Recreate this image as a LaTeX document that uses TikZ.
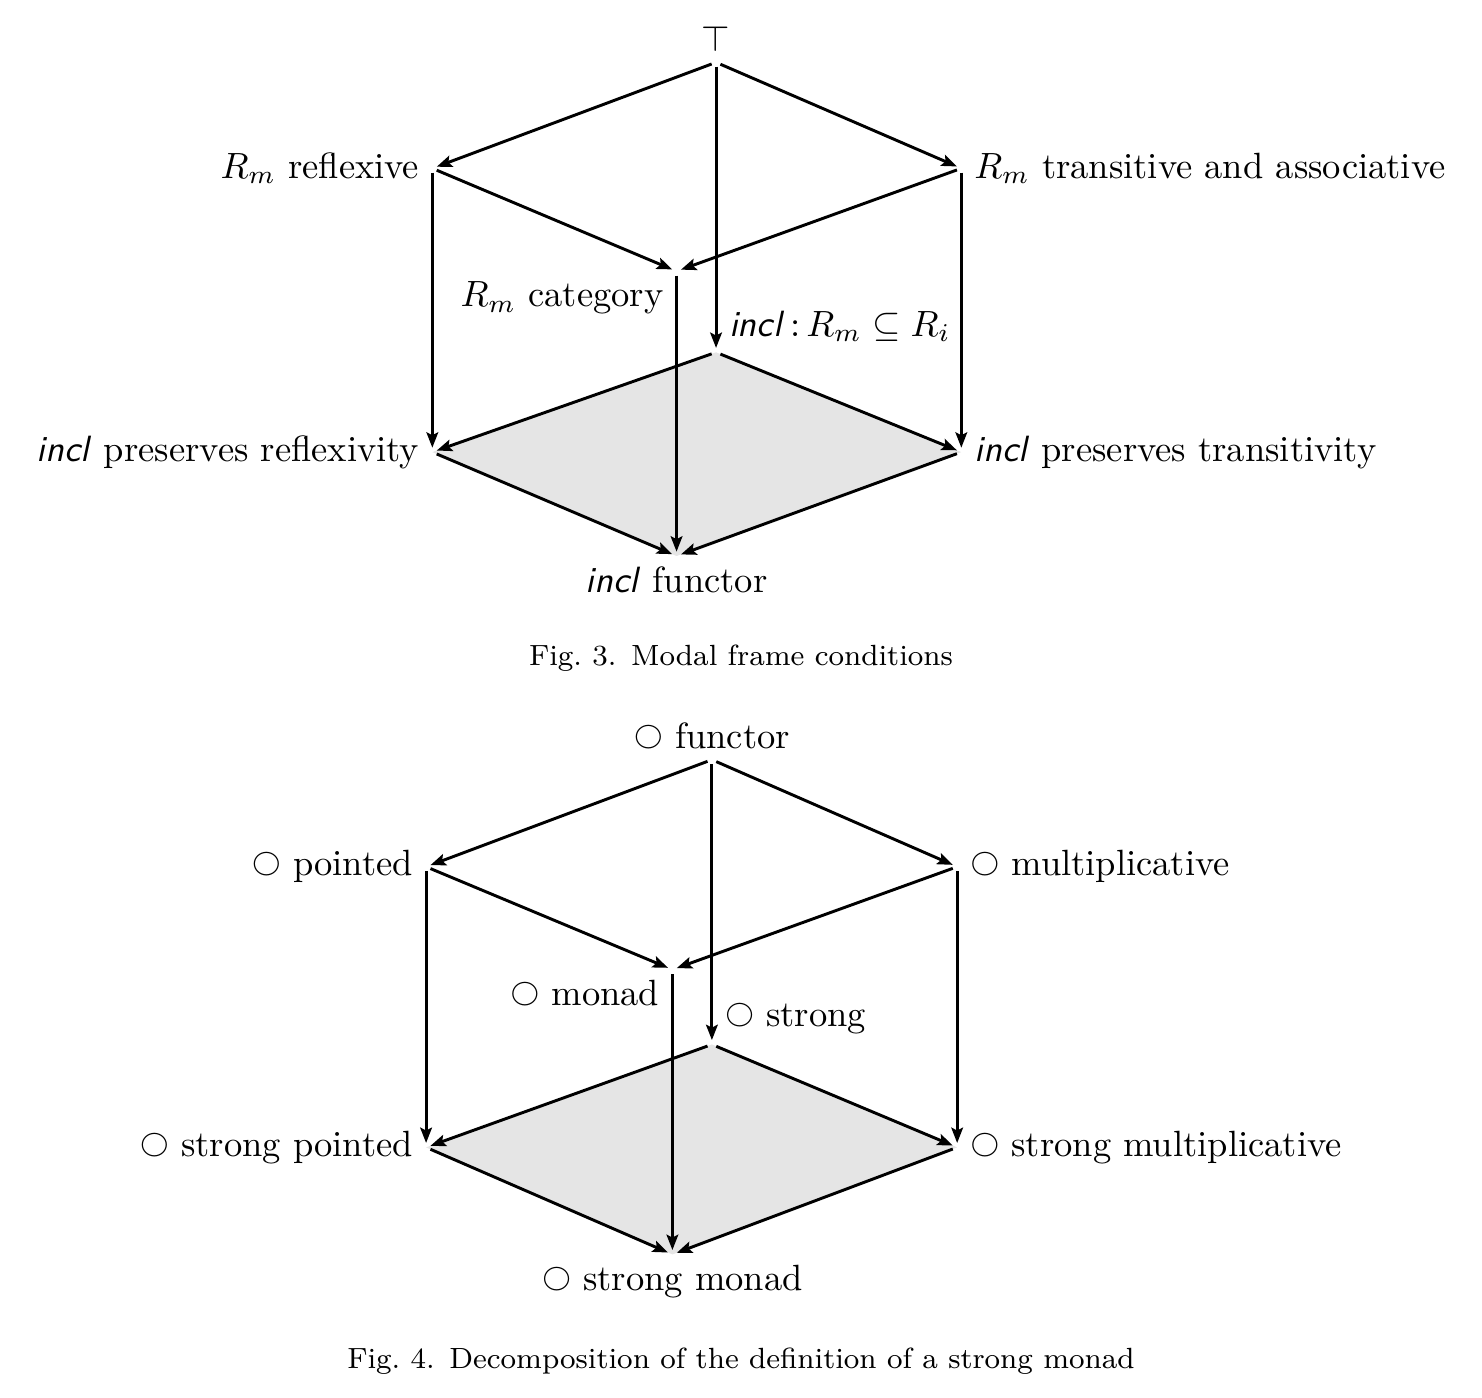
\documentclass[tikz,border=0pt]{standalone}
\usepackage{amsmath}
\usepackage{amssymb}
\usetikzlibrary{arrows.meta}

\newcommand{\incl}{\textsf{\textit{incl}}}
\newcommand{\modcirc}{\raisebox{\depth}{$\scriptstyle\bigcirc$}}

\begin{document}
\begin{tikzpicture}[
        vtx/.style={inner sep=1pt},
        every label/.style={inner xsep=2.2pt, inner ysep=1.5pt},
        arr/.style={thick, -{Stealth[length=4.2pt, width=3.2pt, inset=0.8pt]}},
        face/.style={fill=black!10},
        capt/.style={font=\footnotesize}
    ]

        \useasboundingbox (-6.89,-12.85) rectangle (7.37,0.60);

        % Fig. 3
        \node[vtx, label=above:{$\top$}] (top3) at (0,0) {};
        \node[vtx, label=left:{$R_m$ reflexive}] (refl3) at (-2.73,-1.02) {};
        \node[vtx, label=right:{$R_m$ transitive and associative}] (trans3) at (2.36,-1.02) {};
        \node[vtx, label=below left:{$R_m$ category}] (cat3) at (-0.38,-2.01) {};
        \node[vtx, label=above right:{$\text{\incl}\,{:}\,R_m \subseteq R_i$}] (sub3) at (0,-2.79) {};
        \node[vtx, label=left:{\incl{} preserves reflexivity}] (prefl3) at (-2.73,-3.75) {};
        \node[vtx, label=right:{\incl{} preserves transitivity}] (ptrans3) at (2.36,-3.75) {};
        \node[vtx, label=below:{\incl{} functor}] (fun3) at (-0.38,-4.75) {};

        \fill[face]
            (sub3.center) -- (prefl3.center) -- (fun3.center) -- (ptrans3.center) -- cycle;

        \draw[arr] (top3) -- (refl3);
        \draw[arr] (top3) -- (trans3);
        \draw[arr] (top3) -- (sub3);
        \draw[arr] (refl3) -- (cat3);
        \draw[arr] (trans3) -- (cat3);
        \draw[arr] (refl3) -- (prefl3);
        \draw[arr] (trans3) -- (ptrans3);
        \draw[arr] (cat3) -- (fun3);
        \draw[arr] (sub3) -- (prefl3);
        \draw[arr] (sub3) -- (ptrans3);
        \draw[arr] (prefl3) -- (fun3);
        \draw[arr] (ptrans3) -- (fun3);

        \node[capt] (capt3) at (0.24,-5.73) {Fig.~3.\enspace Modal frame conditions};

        % Fig. 4
        \node[vtx, label=above:{\modcirc{} functor}] (top4) at (-0.04,-6.71) {};
        \node[vtx, label=left:{\modcirc{} pointed}] (pnt4) at (-2.79,-7.74) {};
        \node[vtx, label=right:{\modcirc{} multiplicative}] (mult4) at (2.32,-7.74) {};
        \node[vtx, label=below left:{\modcirc{} monad}] (mon4) at (-0.42,-8.73) {};
        \node[vtx, label=above right:{\modcirc{} strong}] (str4) at (-0.04,-9.45) {};
        \node[vtx, label=left:{\modcirc{} strong pointed}] (spnt4) at (-2.79,-10.44) {};
        \node[vtx, label=right:{\modcirc{} strong multiplicative}] (smult4) at (2.32,-10.44) {};
        \node[vtx, label=below:{\modcirc{} strong monad}] (smon4) at (-0.42,-11.47) {};

        \fill[face]
            (str4.center) -- (spnt4.center) -- (smon4.center) -- (smult4.center) -- cycle;

        \draw[arr] (top4) -- (pnt4);
        \draw[arr] (top4) -- (mult4);
        \draw[arr] (top4) -- (str4);
        \draw[arr] (pnt4) -- (mon4);
        \draw[arr] (mult4) -- (mon4);
        \draw[arr] (pnt4) -- (spnt4);
        \draw[arr] (mult4) -- (smult4);
        \draw[arr] (mon4) -- (smon4);
        \draw[arr] (str4) -- (spnt4);
        \draw[arr] (str4) -- (smult4);
        \draw[arr] (spnt4) -- (smon4);
        \draw[arr] (smult4) -- (smon4);

        \node[capt] (capt4) at (0.24,-12.50) {Fig.~4.\enspace Decomposition of the definition of a strong monad};

\end{tikzpicture}
\end{document}
